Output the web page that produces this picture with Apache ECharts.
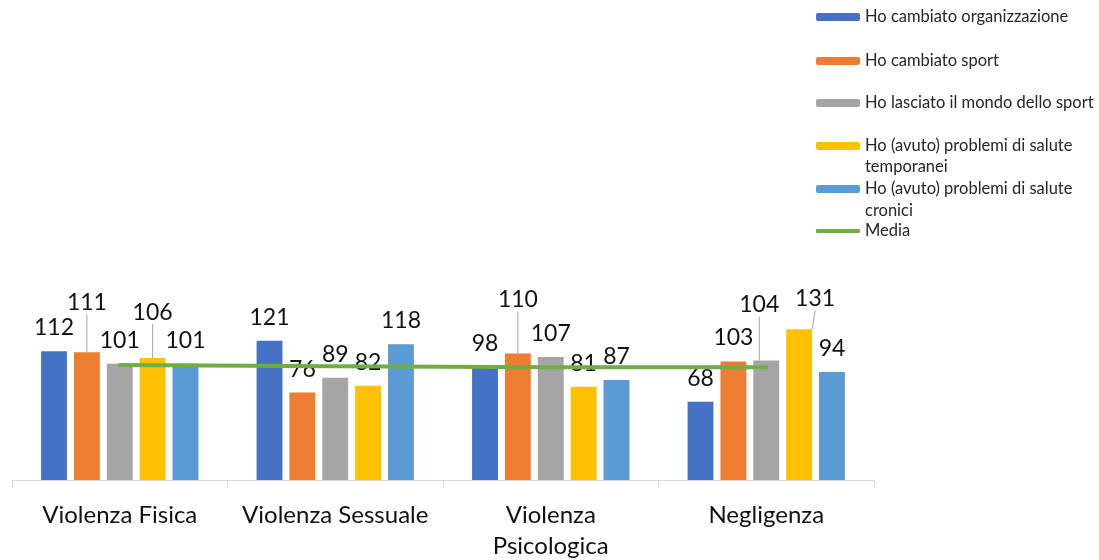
<!DOCTYPE html>
<html>
<head>
<meta charset="utf-8">
<script src="https://cdn.jsdelivr.net/npm/echarts@6/dist/echarts.min.js"></script>
<style>
html, body { margin: 0; padding: 0; background: #fff; }
#chart { width: 1099px; height: 560px; }
</style>
</head>
<body>
<div id="chart"></div>
<script>
const categories = ["Violenza Fisica", "Violenza Sessuale", "Violenza\nPsicologica", "Negligenza"]
const seriesNames = [
	"Ho cambiato organizzazione",
	"Ho cambiato sport",
	"Ho lasciato il mondo dello sport",
	"Ho (avuto) problemi di salute temporanei",
	"Ho (avuto) problemi di salute cronici",
]
const cambiatoOrganizzazione = [112, 121, 98, 68]
const cambiatoSport = [111, 76, 110, 103]
const lasciatoSport = [101, 89, 107, 104]
const saluteTemporanei = [106, 82, 81, 131]
const saluteCronici = [101, 118, 87, 94]
const media = [100, 99, 98, 98]

const barValues = [cambiatoOrganizzazione, cambiatoSport, lasciatoSport, saluteTemporanei, saluteCronici]
const colors = ["#4472C4", "#ED7D31", "#A5A5A5", "#FFC000", "#5B9BD5"]
const font = "Lato, 'Open Sans', sans-serif"

// labels that Excel pushed up with a leader line: "series-index" -> [dx, dy]
const movedLabels = {
	"1-0": [0, -26],
	"3-0": [0, -22],
	"1-2": [0, -30],
	"2-3": [-7, -32],
	"3-3": [16, -7],
}

const chart = echarts.init(document.getElementById("chart"))

const barSeries = barValues.map((values, s) => ({
	name: seriesNames[s],
	type: "bar",
	data: values.map((v, i) => ({
		value: v,
		labelLine: { show: !!movedLabels[s + "-" + i] },
	})),
	barGap: "27%",
	barCategoryGap: "27%",
	itemStyle: { color: colors[s] },
	label: {
		show: true,
		position: "top",
		distance: 12,
		fontSize: 23,
		fontFamily: font,
		color: "#111",
	},
	labelLayout(params) {
		const off = movedLabels[s + "-" + params.dataIndex]
		if (!off) return {}
		return { dx: off[0], dy: off[1] }
	},
	labelLine: {
		show: false,
		lineStyle: { color: "#A6A6A6", width: 1 },
	},
}))

const legendNames = seriesNames.concat(["Media"])
const legendCenters = [17, 61, 103, 146, 189, 231]

chart.setOption({
	animation: false,
	grid: { left: 12, right: 225, top: 319, bottom: 80, outerBoundsMode: "none" },
	legend: legendNames.map((name, i) => ({
		data: [i === 5 ? { name, icon: "roundRect" } : name],
		left: 816,
		top: legendCenters[i] - 11,
		itemWidth: 44,
		itemHeight: i === 5 ? 4 : 8,
		itemGap: 5,
		padding: 0,
		selectedMode: false,
		formatter(n) {
			return n.replace(/ (temporanei|cronici)$/, "")
		},
		textStyle: {
			fontFamily: font,
			fontSize: 16.5,
			color: "#262626",
			lineHeight: 22,
		},
	})),
	graphic: [
		{ type: "text", left: 865, top: 167 - 11, style: { text: "temporanei", font: "16.5px " + font, fill: "#262626", lineHeight: 22 } },
		{ type: "text", left: 865, top: 211 - 11, style: { text: "cronici", font: "16.5px " + font, fill: "#262626", lineHeight: 22 } },
	],
	xAxis: {
		type: "category",
		data: categories,
		axisLine: { lineStyle: { color: "#D9D9D9", width: 1 } },
		axisTick: { show: true, length: 8, lineStyle: { color: "#D9D9D9" } },
		axisLabel: {
			fontFamily: font,
			fontSize: 24,
			color: "#111",
			margin: 20,
			lineHeight: 31,
			interval: 0,
		},
	},
	yAxis: {
		type: "value",
		min: 0,
		max: 140,
		show: false,
		splitLine: { show: false },
	},
	series: barSeries.concat([
		{
			name: "Media",
			type: "line",
			data: media,
			symbol: "none",
			z: 5,
			lineStyle: { color: "#70AD47", width: 4, cap: "round" },
			itemStyle: { color: "#70AD47" },
		},
	]),
})
</script>
</body>
</html>
